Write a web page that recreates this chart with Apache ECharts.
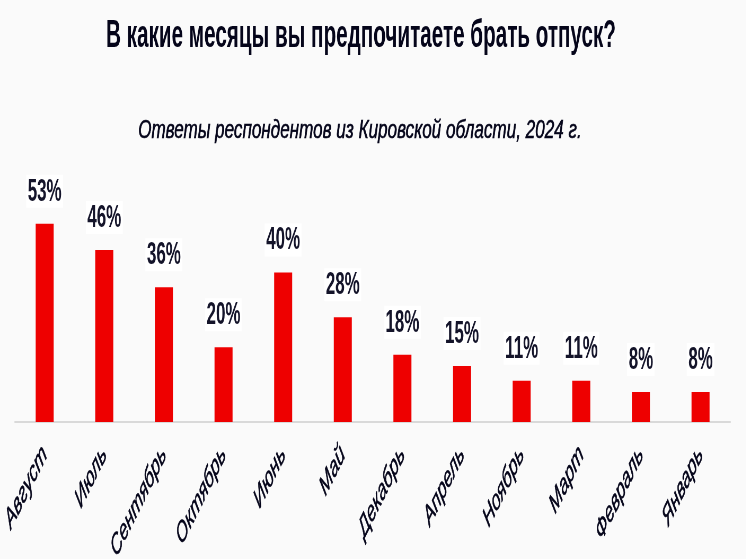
<!DOCTYPE html>
<html><head><meta charset="utf-8">
<script src="https://cdn.jsdelivr.net/npm/echarts@6/dist/echarts.min.js"></script>
<style>
html,body{margin:0;padding:0;background:#fafafa;overflow:hidden;width:746px;height:559px;}
#wrap{width:746px;height:559px;overflow:hidden;}
#c{width:1408px;height:559px;transform:scaleX(0.53);transform-origin:0 0;}
</style></head>
<body><div id="wrap"><div id="c"></div></div>
<script>
const titleText = 'В какие месяцы вы предпочитаете брать отпуск?';
const subtitleText = 'Ответы респондентов из Кировской области, 2024 г.';
const categories = ['Август','Июль','Сентябрь','Октябрь','Июнь','Май','Декабрь','Апрель','Ноябрь','Март','Февраль','Январь'];
const values = [53, 46, 36, 20, 40, 28, 18, 15, 11, 11, 8, 8];

const chart = echarts.init(document.getElementById('c'));
chart.setOption({
  backgroundColor: '#fafafa',
  animation: false,
  title: {
    text: titleText,
    left: 676, top: 12, textAlign: 'center',
    textStyle: {fontFamily: 'Liberation Sans, Arial, sans-serif', fontWeight: 'bold', fontSize: 39, color: '#05051a'}
  },
  graphic: [{
    type: 'text', x: 679, y: 118, scaleX: 1.24,
    style: {text: subtitleText, font: 'italic 26px "Liberation Sans", Arial, sans-serif', fill: '#05051a', textAlign: 'center', textVerticalAlign: 'top', stroke: '#05051a', lineWidth: 0.6}
  }],
  grid: {left: 28, right: 30, top: 197.6, bottom: 137, containLabel: false, outerBoundsMode: 'none'},
  xAxis: {
    type: 'category', data: categories,
    axisLine: {lineStyle: {color: '#d9d9d9', width: 2}},
    axisTick: {show: false},
    axisLabel: {rotate: 47, interval: 0, margin: 28, fontFamily: 'Liberation Sans, Arial, sans-serif', fontStyle: 'italic', fontSize: 29, color: '#05051a', textBorderColor: '#05051a', textBorderWidth: 0.6}
  },
  yAxis: {type: 'value', min: 0, max: 60, show: false, splitLine: {show: false}},
  series: [{
    type: 'bar', data: values, barWidth: 34,
    itemStyle: {color: '#ee0000'},
    label: {show: true, position: 'top', distance: 16, formatter: '{c}%',
      fontFamily: 'Liberation Sans, Arial, sans-serif', fontSize: 32, fontWeight: 'bold', color: '#14142a',
      backgroundColor: '#ffffff', padding: [1, 3, 0, 3]}
  }]
});
</script></body></html>
